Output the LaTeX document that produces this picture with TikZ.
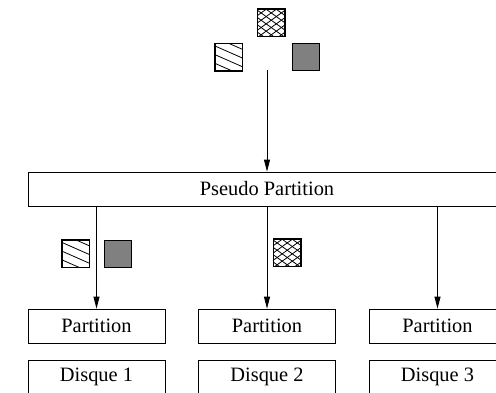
\documentclass[tikz,border=0pt]{standalone}
\usepackage{fontspec}
\setmainfont{Liberation Serif}
\usetikzlibrary{arrows.meta}
\definecolor{fillgray}{RGB}{128,128,128}
\tikzset{
  box/.style={draw, line width=0.8pt, minimum width=137pt, minimum height=34pt,
    inner sep=0pt, font=\fontsize{20.4}{24}\selectfont},
  sq/.style={draw, line width=0.8pt, minimum size=27pt, inner sep=0pt},
  graysq/.style={sq, fill=fillgray},
  hatch/.style={line width=0.8pt},
  link/.style={line width=0.8pt, -{Triangle[length=12pt, width=6pt]}}
}
% diagonal stripes inside a square node
\newcommand\stripefill[1]{%
  \begin{scope}
    \clip (#1.north west) rectangle (#1.south east);
    \begin{scope}[shift={(#1.north west)}]
      \foreach \k in {-2,...,2}
        \draw[hatch] (-2, 2.7+\k*8.7-0.88) -- (30, 2.7+\k*8.7+13.2);
    \end{scope}
  \end{scope}
  \draw[line width=0.8pt] (#1.north west) rectangle (#1.south east);}
% diamond mesh inside a square node
\newcommand\meshfill[1]{%
  \begin{scope}
    \clip (#1.north west) rectangle (#1.south east);
    \begin{scope}[shift={(#1.north west)}]
      \foreach \k in {-5,...,6} {
        \draw[hatch] (-2, 4.3+\k*7.3-4.32) -- (30, 4.3+\k*7.3+18.72);
        \draw[hatch] (-2, 4.3+\k*7.3+4.32) -- (30, 4.3+\k*7.3-18.72);
      }
    \end{scope}
  \end{scope}
  \draw[line width=0.8pt] (#1.north west) rectangle (#1.south east);}
\begin{document}
\begin{tikzpicture}[x=1pt, y=-1pt]
  \useasboundingbox (0,0) rectangle (496,392);
  \clip (0,0) rectangle (496,392);

  % incoming blocks
  \node[sq]     (meshTop)   at (271,22.5) {};
  \node[sq]     (stripeTop) at (228.5,57) {};
  \node[graysq] (grayTop)   at (305.5,57) {};
  \meshfill{meshTop}
  \stripefill{stripeTop}
  \coordinate (topin) at (267,70);

  % pseudo partition spanning the disks
  \node[box, minimum width=478pt] (pseudo) at (267,189) {Pseudo Partition};

  % partitions and disks
  \node[box] (p1) at (96.5,326) {Partition};
  \node[box] (p2) at (267,326) {Partition};
  \node[box] (p3) at (437.5,326) {Partition};
  \node[box] (d1) at (96.5,377) {Disque 1};
  \node[box] (d2) at (267,377) {Disque 2};
  \node[box] (d3) at (437.5,377) {Disque 3};

  % blocks dispatched to each partition
  \node[sq]     (stripeMid) at (75.5,253.5) {};
  \node[graysq] (grayMid)   at (117.5,253.5) {};
  \node[sq]     (meshMid)   at (287,252.5) {};
  \stripefill{stripeMid}
  \meshfill{meshMid}

  % arrows
  \draw[link] (topin) -- (pseudo.north);
  \draw[link] (p1.north |- pseudo.south) -- (p1.north);
  \draw[link] (p2.north |- pseudo.south) -- (p2.north);
  \draw[link] (p3.north |- pseudo.south) -- (p3.north);
\end{tikzpicture}
\end{document}
